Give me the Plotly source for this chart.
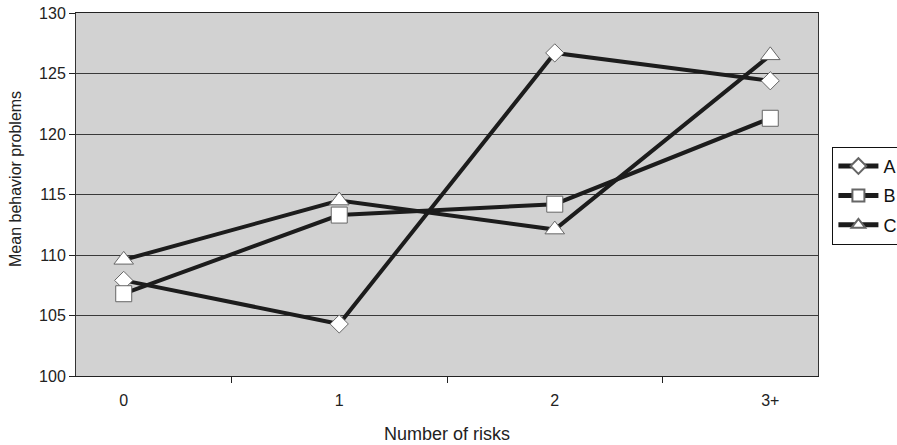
import plotly.graph_objects as go

# Number of risks (x categories)
categories = ["0", "1", "2", "3+"]

# Mean behavior problems for each group
series_a = [107.9, 104.3, 126.7, 124.4]
series_b = [106.8, 113.3, 114.2, 121.3]
series_c = [109.6, 114.5, 112.1, 126.5]

series_names = ["A", "B", "C"]
y_ticks = [100, 105, 110, 115, 120, 125, 130]

FONT = "Liberation Sans, Arial, sans-serif"
LINE_COLOR = "#1c1c1c"
symbols = ["diamond", "square", "triangle-up"]
sizes = [14, 16, 17]

fig = go.Figure()
for name, values, sym, sz in zip(series_names, [series_a, series_b, series_c], symbols, sizes):
    fig.add_trace(go.Scatter(
        x=categories,
        y=values,
        name=name,
        legendgroup=name,
        mode="lines+markers",
        line=dict(color=LINE_COLOR, width=4),
        marker=dict(symbol=sym, size=sz, color="white",
                    line=dict(color="#666666", width=1)),
    ))

fig.update_layout(
    width=897,
    height=445,
    margin=dict(l=76, r=79, t=13, b=69, autoexpand=False),
    paper_bgcolor="white",
    plot_bgcolor="#d2d2d2",
    font=dict(family=FONT, size=15, color="#222222"),
    showlegend=True,
    legend=dict(
        xref="container", yref="container",
        x=0.928, y=0.670, xanchor="left", yanchor="top",
        bgcolor="white", bordercolor="#111111", borderwidth=1,
        font=dict(family=FONT, size=18, color="#111111"),
        itemwidth=40,
        itemsizing="constant",
        tracegroupgap=3,
    ),
    annotations=[dict(
        text="Mean behavior problems",
        xref="paper", yref="paper",
        x=-0.0809, y=0.5427,
        xanchor="center", yanchor="middle",
        textangle=-90, showarrow=False,
        font=dict(family=FONT, size=16, color="#222222"),
    )],
)

fig.update_xaxes(
    type="category",
    tickson="boundaries",
    ticks="outside",
    ticklen=6,
    tickcolor="#222222",
    showgrid=False,
    showline=True,
    linecolor="#222222",
    linewidth=1,
    mirror=True,
    ticklabelstandoff=10,
    title=dict(text="Number of risks", font=dict(size=18, color="#222222"), standoff=19),
    tickfont=dict(size=16),
)

fig.update_yaxes(
    range=[100, 130],
    tickvals=y_ticks,
    ticks="outside",
    ticklen=6,
    tickcolor="#222222",
    showgrid=True,
    gridcolor="#3a3a3a",
    gridwidth=1,
    showline=True,
    linecolor="#333333",
    linewidth=1,
    mirror=True,
    zeroline=False,
    tickfont=dict(size=16),
)

fig.write_html("out.html")
